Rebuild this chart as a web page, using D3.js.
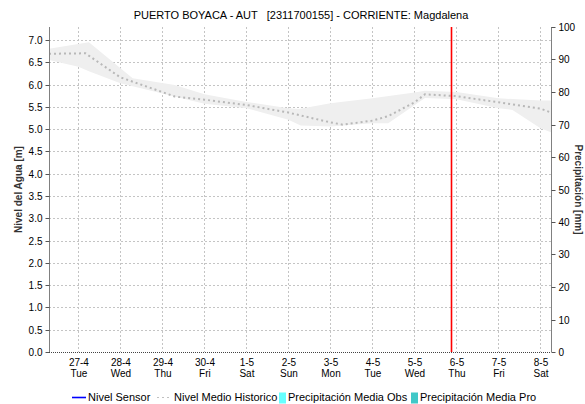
<!DOCTYPE html>
<html><head><meta charset="utf-8">
<script src="https://cdn.jsdelivr.net/npm/d3@7"></script>
<style>
body{margin:0;background:#fff;}
svg{display:block;font-family:"Liberation Sans",Arial,sans-serif;}
</style></head>
<body><svg id="c" width="585" height="404"></svg>
<script>
const titleText = "PUERTO BOYACA - AUT   [2311700155] - CORRIENTE: Magdalena";
const leftLabel = "Nivel del Agua [m]";
const rightLabel = "Precipitación [mm]";
const domainStart = "2021-04-26T07:12";
const domainEnd = "2021-05-08T06:00";
const nowMarker = "2021-05-05T20:45";
const leftTicks = [0,0.5,1,1.5,2,2.5,3,3.5,4,4.5,5,5.5,6,6.5,7];
const rightTicks = [0,10,20,30,40,50,60,70,80,90,100];

// Nivel Medio Historico (mean line)
const meanTimes = ["2021-04-26T07:12","2021-04-27T04:00","2021-04-28T00:00","2021-04-29T00:00","2021-04-29T07:00","2021-04-30T00:00","2021-05-01T00:00","2021-05-02T00:00","2021-05-03T00:00","2021-05-03T07:00","2021-05-04T00:00","2021-05-04T09:00","2021-05-05T00:00","2021-05-05T06:00","2021-05-06T00:00","2021-05-07T00:00","2021-05-08T00:00","2021-05-08T06:00"];
const meanValues = [6.69,6.70,6.16,5.83,5.73,5.66,5.54,5.37,5.15,5.10,5.19,5.29,5.60,5.78,5.74,5.60,5.46,5.37];

// Historical band (upper / lower)
const upperTimes = ["2021-04-26T07:12","2021-04-27T06:00","2021-04-28T07:00","2021-04-29T07:00","2021-04-30T00:00","2021-05-01T00:00","2021-05-02T00:00","2021-05-02T06:00","2021-05-03T00:00","2021-05-04T00:00","2021-05-05T00:00","2021-05-05T06:00","2021-05-06T00:00","2021-05-07T00:00","2021-05-08T00:00","2021-05-08T06:00"];
const upperValues = [6.80,6.95,6.14,5.99,5.78,5.61,5.47,5.45,5.58,5.69,5.82,5.86,5.83,5.69,5.64,5.64];
const lowerTimes = ["2021-04-26T07:12","2021-04-27T00:00","2021-04-27T06:00","2021-04-28T00:00","2021-04-29T00:00","2021-04-29T07:00","2021-04-30T00:00","2021-05-01T00:00","2021-05-02T00:00","2021-05-02T07:00","2021-05-03T00:00","2021-05-04T00:00","2021-05-04T09:00","2021-05-05T06:00","2021-05-06T00:00","2021-05-07T00:00","2021-05-07T08:00","2021-05-08T00:00","2021-05-08T06:00"];
const lowerValues = [6.55,6.40,6.30,6.03,5.80,5.73,5.57,5.47,5.21,5.08,5.06,5.13,5.13,5.70,5.67,5.47,5.43,5.02,4.93];

// Series without data in this window
const sensorTimes = [];
const sensorValues = [];
const precipObs = [];
const precipPro = [];

const legendItems = [
  {label:"Nivel Sensor", type:"line", color:"#0000ff"},
  {label:"Nivel Medio Historico", type:"dash", color:"#c0c0c0"},
  {label:"Precipitación Media Obs", type:"box", color:"#66ffff"},
  {label:"Precipitación Media Pro", type:"box", color:"#40c8c8"}
];

const parse = d3.timeParse("%Y-%m-%dT%H:%M");
const svg = d3.select("#c");
const L=49, R=551, T=27, B=352;
const x = d3.scaleTime().domain([parse(domainStart), parse(domainEnd)]).range([L,R]);
const y = d3.scaleLinear().domain([0,7.29]).range([B,T]);
const y2 = d3.scaleLinear().domain([0,100]).range([B,T]);

const dayTicks = d3.timeDay.range(d3.timeDay.ceil(x.domain()[0]), x.domain()[1]);

// grid
const g = svg.append("g");
g.selectAll("line.h").data(leftTicks.filter(v=>v>0)).join("line")
  .attr("x1",L).attr("x2",R).attr("y1",d=>Math.round(y(d))+0.5).attr("y2",d=>Math.round(y(d))+0.5)
  .attr("stroke","#c4c4c4").attr("stroke-dasharray","2,2");
g.selectAll("line.v").data(dayTicks).join("line")
  .attr("y1",T).attr("y2",B).attr("x1",d=>Math.round(x(d))+0.5).attr("x2",d=>Math.round(x(d))+0.5)
  .attr("stroke","#c4c4c4").attr("stroke-dasharray","2,2");

// band
const band = upperTimes.map((t,i)=>({t:parse(t),v:upperValues[i]}))
  .concat(lowerTimes.map((t,i)=>({t:parse(t),v:lowerValues[i]})).reverse());
svg.append("path")
  .attr("d", d3.line().x(d=>x(d.t)).y(d=>y(d.v))(band)+"Z")
  .attr("fill","#efefef").attr("stroke","none");

// mean line
const meanData = meanTimes.map((t,i)=>({t:parse(t),v:meanValues[i]}));
svg.append("path").datum(meanData)
  .attr("d", d3.line().x(d=>x(d.t)).y(d=>y(d.v)))
  .attr("fill","none").attr("stroke","#b8b8b8").attr("stroke-width",2).attr("stroke-dasharray","2,3");

// sensor line (empty)
const sensorData = sensorTimes.map((t,i)=>({t:parse(t),v:sensorValues[i]}));
if (sensorData.length) svg.append("path").datum(sensorData)
  .attr("d", d3.line().x(d=>x(d.t)).y(d=>y(d.v))).attr("fill","none").attr("stroke","#0000ff");

// axes
const axL = svg.append("g").attr("transform",`translate(${L+0.5},0)`)
  .call(d3.axisLeft(y).tickValues(leftTicks).tickFormat(d3.format(".1f")).tickSize(4).tickPadding(3));
const axR = svg.append("g").attr("transform",`translate(${R+0.5},0)`)
  .call(d3.axisRight(y2).tickValues(rightTicks).tickSize(4).tickPadding(3));
[axL,axR].forEach(a=>{
  a.select(".domain").attr("stroke","#808080").attr("d", `M0,${T}V${B}`);
  a.selectAll(".tick line").attr("stroke","#555");
  a.selectAll("text").attr("font-size",10).attr("fill","#000").attr("font-family","Liberation Sans, Arial, sans-serif");
});
axL.selectAll(".tick").attr("transform", d=>`translate(0,${Math.round(y(d))+0.5})`);
axR.selectAll(".tick").attr("transform", d=>`translate(0,${Math.round(y2(d))+0.5})`);

// bottom axis line (dotted)
svg.append("line").attr("x1",L).attr("x2",R).attr("y1",B+0.5).attr("y2",B+0.5)
  .attr("stroke","#444").attr("stroke-dasharray","1,1");

const axB = svg.append("g").attr("transform",`translate(0,${B})`)
  .call(d3.axisBottom(x).tickValues(dayTicks).tickSize(0).tickFormat(""));
axB.select(".domain").remove();
const fmt1 = d3.timeFormat("%-d-%-m"), fmt2 = d3.timeFormat("%a");
axB.selectAll(".tick").each(function(d){
  const s = d3.select(this);
  s.append("text").attr("y",13.5).attr("text-anchor","middle").attr("font-size",10).attr("fill","#000").text(fmt1(d));
  s.append("text").attr("y",25).attr("text-anchor","middle").attr("font-size",10).attr("fill","#000").text(fmt2(d));
});

// now marker (red)
const nx = Math.round(x(parse(nowMarker)))+0.5;
svg.append("line").attr("x1",nx).attr("x2",nx)
  .attr("y1",T).attr("y2",B).style("stroke","#ff0000").style("stroke-width","1.6px");

// title
svg.append("text").attr("x",301).attr("y",19).attr("text-anchor","middle")
  .attr("font-size",11).style("white-space","pre").attr("fill","#000").text(titleText);

// axis labels
svg.append("text").attr("transform",`translate(22,${(T+B)/2}) rotate(-90)`).attr("text-anchor","middle")
  .attr("font-size",10).attr("font-weight","bold").attr("fill","#333").text(leftLabel);
svg.append("text").attr("transform",`translate(575,${(T+B)/2}) rotate(90)`).attr("text-anchor","middle")
  .attr("font-size",10).attr("font-weight","bold").attr("fill","#333").text(rightLabel);

// legend
const legXs = [72, 157, 279, 411];
const lg = svg.append("g");
legendItems.forEach((it,i)=>{
  const gx = legXs[i], gy = 397;
  const gi = lg.append("g");
  if (it.type==="line") {
    gi.append("line").attr("x1",gx).attr("x2",gx+14).attr("y1",gy+0.5).attr("y2",gy+0.5).style("stroke",it.color).style("stroke-width","1.6px");
    gi.append("text").attr("x",gx+16).attr("y",gy+4).attr("font-size",11).text(it.label);
  } else if (it.type==="dash") {
    gi.append("line").attr("x1",gx).attr("x2",gx+14).attr("y1",gy+0.5).attr("y2",gy+0.5).style("stroke",it.color).attr("stroke-dasharray","2,3");
    gi.append("text").attr("x",gx+17).attr("y",gy+4).attr("font-size",11).text(it.label);
  } else {
    gi.append("rect").attr("x",gx).attr("y",gy-4.5).attr("width",7).attr("height",11).attr("fill",it.color);
    gi.append("text").attr("x",gx+9).attr("y",gy+4).attr("font-size",11).text(it.label);
  }
});
</script></body></html>
